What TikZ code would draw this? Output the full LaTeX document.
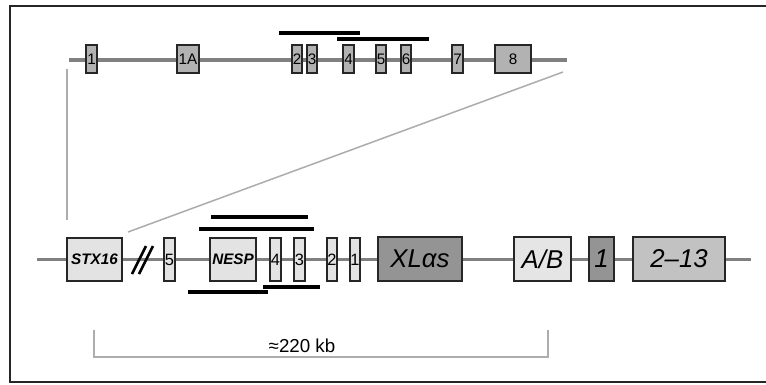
\documentclass[tikz,border=0pt]{standalone}
\usepackage{fontspec}
\setmainfont{Liberation Sans}
\usetikzlibrary{positioning}

\newdimen\px \px=0.03cm

\begin{document}
\begin{tikzpicture}[
  x=0.03cm, y=-0.03cm,
  % Gene backbone and zoom guides
  spine/.style={draw=black!50, line width=3pt},
  guide/.style={draw=black!32, line width=1.3pt},
  % Black bars above / below exons
  bar/.style={draw=black, line width=2.6pt},
  % Exon boxes
  exon/.style={rectangle, draw=black!85, line width=1.6pt, inner sep=0pt},
  topex/.style={exon, fill=black!30, minimum height=28\px,
                font=\fontsize{13}{14}\selectfont},
  lowex/.style={exon, fill=black!11, minimum height=43\px,
                font=\fontsize{14}{15}\selectfont},
  bigex/.style={exon, minimum height=44\px,
                font=\fontsize{22}{24}\selectfont\itshape},
  gname/.style={font=\fontsize{13}{14}\selectfont\bfseries\itshape}
]
\useasboundingbox (0,0) rectangle (766,384);

% ── Frame (open on the right) ─────────────────────────────────────────────
\draw[black!85, line width=2.5pt] (766,6) -- (10,6) -- (10,382) -- (766,382);

% ── Top row: exon map ─────────────────────────────────────────────────────
\coordinate (topL) at (69,60);
\coordinate (topR) at (567,60);
\draw[spine] (topL) -- (topR);

\node[topex, minimum width=11\px]   (t1)  at (91.5,59) {1};
\node[topex, minimum width=22\px]   (t1A) at (188,59)  {1A};
\node[topex, minimum width=10.5\px] (t2)  at (297,59)  {2};
\node[topex, minimum width=10.5\px] (t3)  at (312,59)  {3};
\node[topex, minimum width=11\px]   (t4)  at (348.5,59) {4};
\node[topex, minimum width=10.5\px] (t5)  at (381,59)  {5};
\node[topex, minimum width=10.5\px] (t6)  at (406,59)  {6};
\node[topex, minimum width=10.5\px] (t7)  at (457.5,59) {7};
\node[topex, minimum width=36\px]   (t8)  at (513,59)  {8};

\draw[bar] (279,33) -- (360,33);
\draw[bar] (337,39) -- (429,39);

% ── Zoom guides ───────────────────────────────────────────────────────────
\coordinate (zL1) at (67,69);
\coordinate (zL2) at (67,220);
\coordinate (zR1) at (563,72);
\coordinate (zR2) at (128,232);
\draw[guide] (zL1) -- (zL2);
\draw[guide] (zR1) -- (zR2);

% ── Bottom row: locus ─────────────────────────────────────────────────────
\coordinate (botL) at (37,259.5);
\coordinate (botR) at (751,259.5);
\draw[spine] (botL) -- (botR);

\node[lowex, minimum width=55\px, gname] (stx)  at (94.5,259.5) {STX16};
\node[lowex, minimum width=11\px]        (b5)   at (169.5,259.5) {5};
\node[lowex, minimum width=46\px, gname] (nesp) at (233,259.5) {NESP};
\node[lowex, minimum width=11\px]        (b4)   at (275.5,259.5) {4};
\node[lowex, minimum width=11\px]        (b3)   at (299.5,259.5) {3};
\node[lowex, minimum width=10.5\px]      (b2)   at (332,259.5) {2};
\node[lowex, minimum width=10.5\px]      (b1)   at (355,259.5) {1};

\node[bigex, fill=black!42, minimum width=84\px] (xlas)  at (420,259) {XLαs};
\node[bigex, fill=black!10, minimum width=57\px] (ab)    at (542.5,259) {A/B};
\node[bigex, fill=black!42, minimum width=25\px] (ex1)   at (601.5,259) {1};
\node[bigex, fill=black!24, minimum width=92\px] (ex213) at (679,259) {2–13};

% break marks
\draw[black, line width=2.2pt] (132,274) -- (146,246);
\draw[black, line width=2.2pt] (139,274) -- (153,246);

\draw[bar] (211,217) -- (308,217);
\draw[bar] (199,229) -- (314,229);
\draw[bar] (188,292) -- (268,292);
\draw[bar] (263,287) -- (320,287);

% ── Scale bracket ─────────────────────────────────────────────────────────
\draw[guide] (94,330) -- (94,357) -- (548,357) -- (548,330);
\node[font=\fontsize{16}{17}\selectfont] (scale) at (302,346) {≈220 kb};

\end{tikzpicture}
\end{document}
